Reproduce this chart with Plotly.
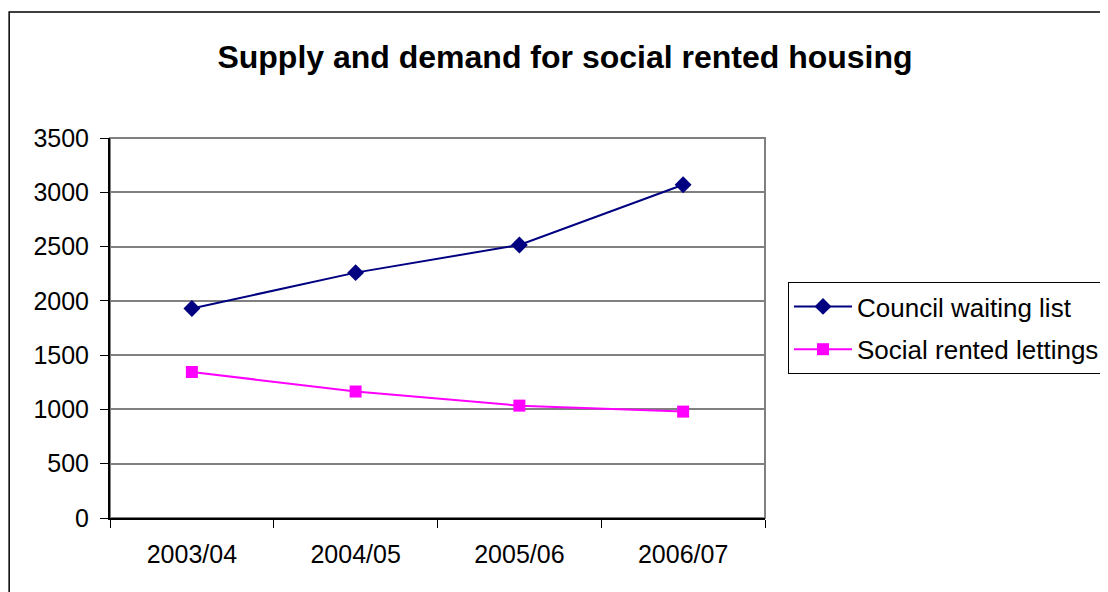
# Supply and demand for social rented housing - line chart

import plotly.graph_objects as go

years = ['2003/04', '2004/05', '2005/06', '2006/07']
waiting_list = [1930, 2260, 2515, 3070]
rented_lettings = [1345, 1165, 1035, 980]
y_ticks = [0, 500, 1000, 1500, 2000, 2500, 3000, 3500]

# page has an 8px body margin, so positions below are shifted by 8
W, H = 1108, 592
L, R, T, B = 102, 350, 130, 82
pw, ph = W - L - R, H - T - B

font_family = 'Liberation Sans, Arial, sans-serif'

fig = go.Figure()

fig.add_trace(go.Scatter(x=years, y=waiting_list, name='Council waiting list',
                         mode='lines+markers', legendgroup='a',
                         line=dict(color='#000080', width=2),
                         marker=dict(symbol='diamond', size=13, color='#000080')))
fig.add_trace(go.Scatter(x=years, y=rented_lettings, name='Social rented lettings',
                         mode='lines+markers', legendgroup='b',
                         line=dict(color='#FF00FF', width=2),
                         marker=dict(symbol='square', size=12, color='#FF00FF')))

# plot area frame (gray) and outer chart border
fig.add_shape(type='rect', xref='paper', yref='paper', x0=0, x1=1, y0=0, y1=1,
              line=dict(color='#808080', width=2), layer='below')
fig.add_shape(type='rect', xref='paper', yref='paper',
              x0=(1 - L) / pw, x1=(W + 10 - L) / pw,
              y0=-(B + 10) / ph, y1=(H - B - 4) / ph,
              line=dict(color='black', width=1.5), layer='below')

fig.update_layout(
    width=W, height=H,
    margin=dict(l=L, r=R, t=T, b=B),
    paper_bgcolor='white', plot_bgcolor='white',
    font=dict(family=font_family, color='black', size=25),
    title=dict(text='<b>Supply and demand for social rented housing</b>',
               x=557 / W, xanchor='center', xref='container',
               y=1 - 49 / H, yanchor='middle', yref='container',
               font=dict(size=32, family=font_family, color='black')),
    showlegend=True,
    legend=dict(x=(780 - L) / pw, xanchor='left', y=(H - B - 274) / ph, yanchor='top',
                bordercolor='black', borderwidth=1, bgcolor='white',
                font=dict(size=26, family=font_family, color='black'),
                itemwidth=58, traceorder='grouped', tracegroupgap=6),
)

fig.update_xaxes(type='category', showline=True, linecolor='black', linewidth=2,
                 ticks='outside', ticklen=8, tickcolor='black', tickson='boundaries',
                 showgrid=False, range=[-0.5, 3.5], tickfont=dict(size=25),
                 ticklabelstandoff=13)
fig.update_yaxes(range=[0, 3500], tickvals=y_ticks, showline=True, linecolor='black',
                 linewidth=2, ticks='outside', ticklen=8, tickcolor='black',
                 showgrid=True, gridcolor='#808080', gridwidth=1.5, zeroline=False,
                 ticklabelstandoff=6, tickfont=dict(size=25))

fig.write_html('out.html')
